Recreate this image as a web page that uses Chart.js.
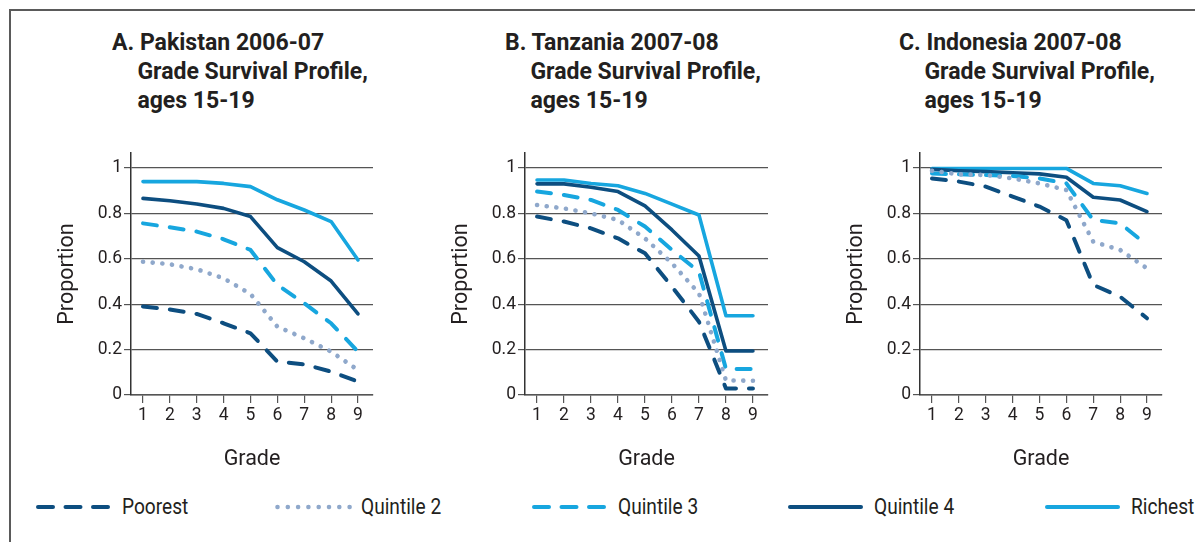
<!DOCTYPE html>
<html>
<head>
<meta charset="utf-8">
<script src="https://cdn.jsdelivr.net/npm/chart.js@4.4.1/dist/chart.umd.min.js"></script>
<style>
  html, body { margin: 0; padding: 0; background: #fff; }
  body { width: 1195px; height: 542px; position: relative; overflow: hidden;
         font-family: Roboto, "Liberation Sans", sans-serif; color: #231f20; }
  .frame { position: absolute; left: 9px; top: 9px; width: 1200px; height: 600px;
           border-top: 2px solid #5a5a5a; border-left: 2px solid #5a5a5a; }
  .cv { position: absolute; }
  .title { position: absolute; font-weight: bold; font-size: 24.5px; line-height: 29px;
           white-space: nowrap; transform: scaleX(0.94); transform-origin: 0 0; }
  .title .ind { padding-left: 27px; display: block; }
  .leg { position: absolute; top: 496px; height: 24px; white-space: nowrap; }
  .leg svg { position: absolute; left: 0; top: 6px; }
  .leg span { position: absolute; top: -2px; font-size: 21.5px; line-height: 26px;
              transform: scaleX(0.89); transform-origin: 0 0; }
</style>
</head>
<body>
<div class="frame"></div>
<div id="titles"></div>
<canvas id="cA" class="cv"></canvas>
<canvas id="cB" class="cv"></canvas>
<canvas id="cC" class="cv"></canvas>
<div id="legend"></div>
<script>
// ---------------- data ----------------
const grades = [1, 2, 3, 4, 5, 6, 7, 8, 9];
const seriesNames = ['Poorest', 'Quintile 2', 'Quintile 3', 'Quintile 4', 'Richest'];
const yTickValues = [0, 0.2, 0.4, 0.6, 0.8, 1];
const yTickLabels = ['0', '0.2', '0.4', '0.6', '0.8', '1'];

const panelLetters = ['A.', 'B.', 'C.'];
const panelCountries = ['Pakistan 2006-07', 'Tanzania 2007-08', 'Indonesia 2007-08'];
const panelSubtitle1 = 'Grade Survival Profile,';
const panelSubtitle2 = 'ages 15-19';
const xAxisTitle = 'Grade';
const yAxisTitle = 'Proportion';

// Pakistan 2006-07
const pakPoorest  = [0.39, 0.377, 0.357, 0.316, 0.272, 0.147, 0.135, 0.103, 0.059];
const pakQuint2   = [0.587, 0.576, 0.554, 0.514, 0.445, 0.301, 0.25, 0.191, 0.11];
const pakQuint3   = [0.756, 0.739, 0.72, 0.686, 0.639, 0.485, 0.404, 0.316, 0.191];
const pakQuint4   = [0.866, 0.856, 0.841, 0.822, 0.786, 0.649, 0.587, 0.502, 0.357];
const pakRichest  = [0.94, 0.94, 0.94, 0.932, 0.918, 0.86, 0.815, 0.764, 0.595];

// Tanzania 2007-08
const tzaPoorest  = [0.786, 0.764, 0.734, 0.69, 0.624, 0.477, 0.323, 0.029, 0.029];
const tzaQuint2   = [0.837, 0.822, 0.80, 0.771, 0.69, 0.58, 0.448, 0.064, 0.063];
const tzaQuint3   = [0.896, 0.881, 0.859, 0.815, 0.742, 0.639, 0.543, 0.115, 0.115];
const tzaQuint4   = [0.93, 0.93, 0.915, 0.896, 0.833, 0.727, 0.612, 0.194, 0.194];
const tzaRichest  = [0.947, 0.947, 0.932, 0.922, 0.888, 0.841, 0.793, 0.349, 0.349];

// Indonesia 2007-08
const idnPoorest  = [0.954, 0.94, 0.918, 0.874, 0.83, 0.77, 0.485, 0.433, 0.338];
const idnQuint2   = [0.988, 0.972, 0.969, 0.954, 0.932, 0.903, 0.675, 0.639, 0.558];
const idnQuint3   = [0.976, 0.972, 0.969, 0.965, 0.954, 0.932, 0.771, 0.756, 0.661];
const idnQuint4   = [0.994, 0.988, 0.984, 0.979, 0.974, 0.959, 0.871, 0.859, 0.808];
const idnRichest  = [0.998, 0.998, 0.998, 0.998, 0.998, 0.998, 0.932, 0.922, 0.888];

// ---------------- styles ----------------
const NAVY = '#0d4e80', LIGHT = '#17a6df', GREYBLUE = '#8fa8cb';
const seriesStyles = [
  { color: NAVY,     dash: [14, 13],  width: 4,   cap: 'round' },
  { color: GREYBLUE, dash: [0.1, 9.6], width: 4.6, cap: 'round' },
  { color: LIGHT,    dash: [14, 13],  width: 4,   cap: 'round' },
  { color: NAVY,     dash: [],        width: 3.6, cap: 'round' },
  { color: LIGHT,    dash: [],        width: 3.6, cap: 'round' }
];

const panels = [
  { id: 'cA', left: 40,  width: 335, series: [pakPoorest, pakQuint2, pakQuint3, pakQuint4, pakRichest], titleLeft: 112 },
  { id: 'cB', left: 434, width: 336, series: [tzaPoorest, tzaQuint2, tzaQuint3, tzaQuint4, tzaRichest], titleLeft: 505 },
  { id: 'cC', left: 829, width: 335, series: [idnPoorest, idnQuint2, idnQuint3, idnQuint4, idnRichest], titleLeft: 899 }
];

Chart.defaults.font.family = 'Roboto, "Liberation Sans", sans-serif';
Chart.defaults.color = '#231f20';

const GRID = '#555555';
const CANVAS_TOP = 140, CANVAS_H = 335;

panels.forEach((p, pi) => {
  // title
  const t = document.createElement('div');
  t.className = 'title';
  t.style.left = p.titleLeft + 'px';
  t.style.top = '27px';
  t.innerHTML = '<span style="display:block">' + panelLetters[pi] + ' ' + panelCountries[pi] + '</span>' +
    '<span class="ind">' + panelSubtitle1 + '</span><span class="ind">' + panelSubtitle2 + '</span>';
  document.getElementById('titles').appendChild(t);

  const cv = document.getElementById(p.id);
  cv.width = p.width; cv.height = CANVAS_H;
  cv.style.left = p.left + 'px'; cv.style.top = CANVAS_TOP + 'px';
  cv.style.width = p.width + 'px'; cv.style.height = CANVAS_H + 'px';

  const datasets = p.series.map((vals, si) => ({
    label: seriesNames[si],
    data: grades.map((g, i) => ({ x: g, y: vals[i] })),
    borderColor: seriesStyles[si].color,
    backgroundColor: seriesStyles[si].color,
    borderWidth: seriesStyles[si].width,
    borderDash: seriesStyles[si].dash,
    borderCapStyle: seriesStyles[si].cap,
    borderJoinStyle: 'round',
    pointRadius: 0,
    tension: 0,
    fill: false
  }));

  new Chart(cv, {
    type: 'line',
    data: { datasets },
    options: {
      responsive: false,
      animation: false,
      events: [],
      layout: { padding: { top: 13, right: 2, left: 0, bottom: 0 } },
      plugins: { legend: { display: false }, tooltip: { enabled: false } },
      scales: {
        x: {
          type: 'linear',
          min: 0.554, max: 9.558,
          afterBuildTicks: s => { s.ticks = grades.map(v => ({ value: v })); },
          afterFit: s => { s.height = 80; },
          grid: { drawOnChartArea: false, drawTicks: true, tickLength: 8, color: GRID, lineWidth: 1.2 },
          border: { display: true, color: GRID, width: 1.5 },
          ticks: { font: { size: 17.5 }, padding: 2, color: '#231f20', maxRotation: 0, autoSkip: false,
                   callback: v => String(v) },
          title: { display: true, text: xAxisTitle, font: { size: 21.5 }, color: '#231f20',
                   padding: { top: 0, bottom: 2 } }
        },
        y: {
          type: 'linear',
          min: 0, max: 1.066,
          afterBuildTicks: s => { s.ticks = yTickValues.map(v => ({ value: v })); },
          afterFit: s => { s.width = 91; },
          grid: { drawOnChartArea: true, drawTicks: true, tickLength: 7, color: GRID, lineWidth: 1.2 },
          border: { display: true, color: '#333333', width: 1.5 },
          ticks: { font: { size: 17.5 }, padding: 2, color: '#231f20',
                   callback: v => yTickLabels[yTickValues.indexOf(v)] },
          title: { display: true, text: yAxisTitle, font: { size: 21.5 }, color: '#231f20',
                   padding: { top: 15, bottom: 0 } }
        }
      }
    }
  });
});

// ---------------- legend ----------------
const legendLeft = [36, 275, 532, 788, 1045];
const leg = document.getElementById('legend');
seriesNames.forEach((name, i) => {
  const st = seriesStyles[i];
  const d = document.createElement('div');
  d.className = 'leg';
  d.style.left = legendLeft[i] + 'px';
  let dash = '', x1 = 2, x2 = 73;
  if (i === 0 || i === 2) dash = 'stroke-dasharray="15 12.5"';
  if (i === 1) { dash = 'stroke-dasharray="0 10.3"'; x1 = 2.5; x2 = 74.7; }
  d.innerHTML = '<svg width="78" height="10"><line x1="' + x1 + '" y1="5" x2="' + x2 + '" y2="5" stroke="' + st.color +
    '" stroke-width="' + (i === 1 ? 4.6 : 4) + '" stroke-linecap="round" ' + dash + '/></svg>' +
    '<span style="left:86px">' + name + '</span>';
  leg.appendChild(d);
});
</script>
</body>
</html>
